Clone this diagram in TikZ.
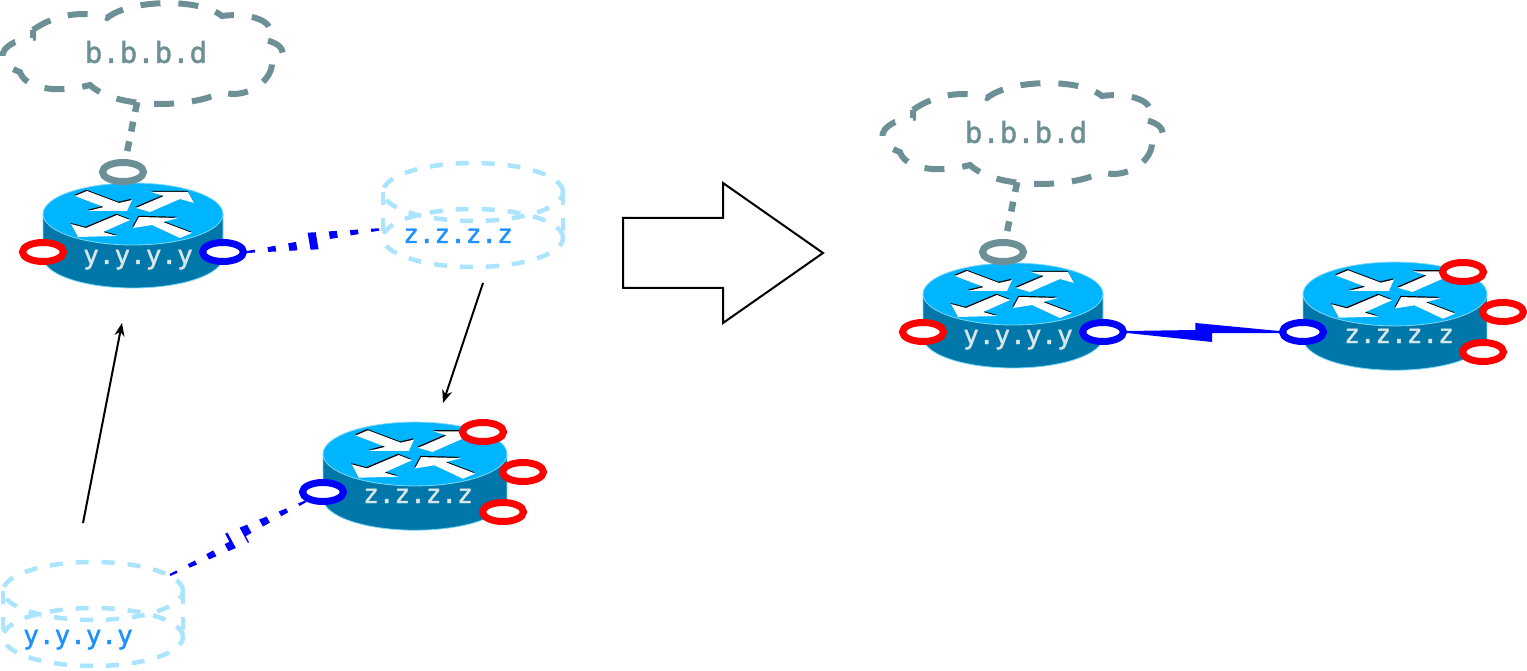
\documentclass[tikz,border=0pt]{standalone}
\usepackage{fontspec}
\newfontfamily\labelfont[FakeBold=1.5]{DejaVu Sans Mono}
\usetikzlibrary{arrows.meta, calc, shapes.geometric}
\definecolor{routertop}{HTML}{00B5FF}
\definecolor{routerside}{HTML}{0077A8}
\definecolor{routeredge}{HTML}{7FD8F5}
\definecolor{iptext}{HTML}{D9E6E8}
\definecolor{cloudgrey}{HTML}{6D9096}
\definecolor{ghost}{HTML}{ABE4FF}
\definecolor{ghosttext}{HTML}{1E90FF}
\definecolor{portred}{HTML}{FF0000}
\definecolor{portblue}{HTML}{0000FF}

\tikzset{
  router/.pic={
    \path[fill=routerside, draw=routeredge, line width=0.8pt]
      (-90,0) -- (-90,43) arc[start angle=180, end angle=360, x radius=90pt, y radius=31pt] -- (90,0) -- cycle;
    \path[fill=routertop, draw=routeredge, line width=0.8pt] (0,0) ellipse[x radius=90pt, y radius=31pt];
    \foreach \shp in {
      {(-58,-18) -- (-46,-23) -- (-14,-11) -- (-1,-14) -- (-6,-3) -- (-45,-3) -- (-29,-7) -- cycle},
      {(3,-6) -- (31,-18) -- (18,-22) -- (55,-22) -- (61,-11) -- (47,-15) -- (17,-2) -- cycle},
      {(-62,10) -- (-47,14) -- (-16,1) -- (-3,6) -- (-30,18) -- (-16,22) -- (-55,23) -- cycle},
      {(0,14) -- (6,3) -- (45,4) -- (30,8) -- (59,19) -- (47,24) -- (19,11) -- cycle}} {
      \fill[black, shift={(-0.6,-1.2)}] \shp;
      \fill[white] \shp;
    }
  },
  cloudline/.pic={
    \draw[cloudgrey, line width=6pt, dash pattern=on 20pt off 18pt]
      (33,30) .. controls (55,14) and (85,10) .. (107,18)
      .. controls (130,-1) and (200,-2) .. (222,16)
      .. controls (250,12) and (282,22) .. (265,40)
      .. controls (290,45) and (285,62) .. (272,63)
      .. controls (272,82) and (245,100) .. (222,92)
      .. controls (190,109) and (115,109) .. (90,85)
      .. controls (55,94) and (25,88) .. (20,72)
      .. controls (0,65) and (-5,52) .. (15,42)
      -- (33,38) -- (33,30);
  },
  ghostcyl/.pic={
    \draw[ghost, line width=4.5pt, dash pattern=on 13pt off 13pt] (0,0) ellipse[x radius=90pt, y radius=29pt];
    \draw[ghost, line width=4.5pt, dash pattern=on 13pt off 13pt] (0,46) ellipse[x radius=90pt, y radius=29pt];
    \draw[ghost, line width=4.5pt, dash pattern=on 13pt off 13pt] (-90,0) -- (-90,46);
    \draw[ghost, line width=4.5pt, dash pattern=on 13pt off 13pt] (90,0) -- (90,46);
  }
}

% outline of a lightning link, from #1 to #2
\newcommand{\boltshape}[2]{
  ($(#1)!1pt!90:(#2)$) -- ($(#1)!0.45!(#2)!2pt!90:(#2)$) -- ($(#1)!0.45!(#2)!9pt!90:(#2)$)
  -- ($(#2)!1pt!-90:(#1)$) -- ($(#2)!1pt!90:(#1)$)
  -- ($(#1)!0.56!(#2)!-1pt!90:(#2)$) -- ($(#1)!0.56!(#2)!-10pt!90:(#2)$) -- ($(#1)!-1pt!90:(#2)$) -- cycle
}
\newcommand{\dashbolt}[2]{
  \begin{scope}
    \clip \boltshape{#1}{#2};
    \draw[portblue, line width=26pt, dash pattern=on 8pt off 13pt] (#1) -- (#2);
  \end{scope}
}

\begin{document}
\begin{tikzpicture}[x=1pt, y=-1pt, >={Stealth[length=13pt, width=10pt]},
    ring/.style={ellipse, draw, line width=7pt, fill=white, minimum width=41pt, minimum height=19pt, inner sep=0pt},
    ringred/.style={ring, draw=portred},
    ringblue/.style={ring, draw=portblue},
    ringgrey/.style={ring, draw=cloudgrey},
    iplabel/.style={anchor=base, font=\labelfont\fontsize{26}{30}\selectfont, text=iptext, inner sep=0pt},
    ghostlabel/.style={iplabel, text=ghosttext},
    cloudlabel/.style={ellipse, font=\labelfont\fontsize{29}{32}\selectfont, text=cloudgrey, minimum width=280pt, minimum height=100pt, inner sep=0pt},
    cloudlink/.style={cloudgrey, line width=6.5pt, dash pattern=on 10pt off 10pt},
    movearrow/.style={->, line width=2pt}]
  \useasboundingbox (0,0) rectangle (1527,671);

  % before the change
  \pic at (0,0) {cloudline};
  \node[cloudlabel] (cloudL) at (146,52) {b.b.b.d};
  \pic at (133,214) {router};
  \node[iplabel] (ipYL) at (138,264) {y.y.y.y};
  \node[ringgrey] (ringGreyL) at (123,172) {};
  \node[ringred] (ringRedL) at (43,252) {};
  \node[ringblue] (ringBlueL) at (223,252) {};
  \draw[cloudlink] (cloudL.260) -- (ringGreyL);

  \pic at (473,192) {ghostcyl};
  \node[ghostlabel] (ghostZ) at (458,243) {z.z.z.z};
  \coordinate (ghostZport) at (383,229);
  \dashbolt{ringBlueL.east}{ghostZport}

  \pic[xscale=1.022, yscale=1.03] at (415,454) {router};
  \node[iplabel] (ipZL) at (418,503) {z.z.z.z};
  \node[ringred] (ringRedA) at (483,432) {};
  \node[ringred] (ringRedB) at (523,472) {};
  \node[ringred] (ringRedC) at (503,512) {};
  \node[ringblue] (ringBlueZ) at (323,492) {};

  \pic at (93,591) {ghostcyl};
  \node[ghostlabel] (ghostY) at (78,644) {y.y.y.y};
  \coordinate (ghostYport) at (170,575);
  \dashbolt{ringBlueZ.south west}{ghostYport}

  \coordinate (moveYa) at (83,523);
  \coordinate (moveYb) at (122,323);
  \coordinate (moveZa) at (483,283);
  \coordinate (moveZb) at (443,403);
  \draw[movearrow] (moveYa) -- (moveYb);
  \draw[movearrow] (moveZa) -- (moveZb);

  % big arrow
  \draw[line width=2pt] (623,218) -- (723,218) -- (723,183) -- (823,253) -- (723,323) -- (723,288) -- (623,288) -- cycle;

  % after the change
  \pic at (880,80) {cloudline};
  \node[cloudlabel] (cloudR) at (1026,132) {b.b.b.d};
  \pic at (1013,294) {router};
  \node[iplabel] (ipYR) at (1018,344) {y.y.y.y};
  \node[ringgrey] (ringGreyR) at (1003,252) {};
  \node[ringred] (ringRedR) at (923,332) {};
  \node[ringblue] (ringBlueR) at (1103,332) {};
  \draw[cloudlink] (cloudR.260) -- (ringGreyR);

  \pic[xscale=1.022, yscale=1.03] at (1395,294) {router};
  \node[iplabel] (ipZR) at (1399,343) {z.z.z.z};
  \node[ringred] (ringRedD) at (1463,272) {};
  \node[ringred] (ringRedE) at (1503,312) {};
  \node[ringred] (ringRedF) at (1483,352) {};
  \node[ringblue] (ringBlueS) at (1303,332) {};
  \fill[portblue] \boltshape{ringBlueR.east}{ringBlueS.west};
\end{tikzpicture}
\end{document}
